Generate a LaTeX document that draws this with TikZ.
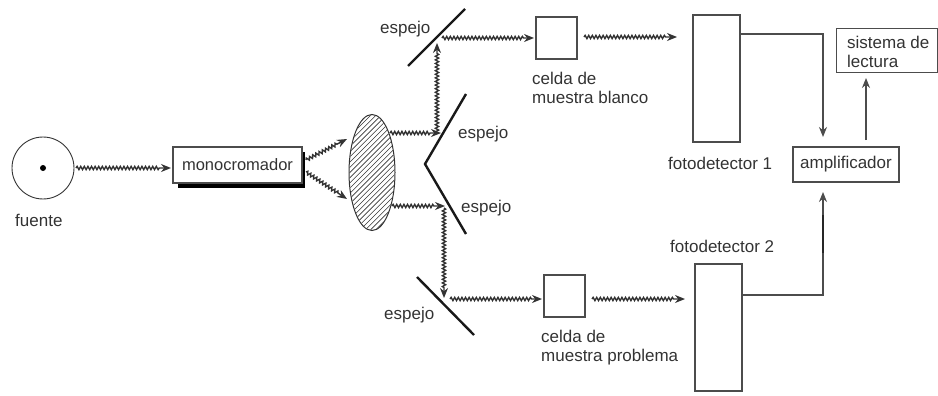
\documentclass[tikz,border=0pt]{standalone}
\usepackage{fontspec}
\setmainfont{Liberation Sans}
\usetikzlibrary{decorations.pathmorphing,arrows.meta,shapes.geometric}
\tikzset{
  x=1pt,y=-1pt,
  lbl/.style={inner sep=0pt,font=\fontsize{17}{19}\selectfont,text=black!80,align=left},
  boxn/.style={draw=black!70,line width=1.3pt,fill=white,inner sep=0pt},
  mirror/.style={line width=2.4pt,black!90},
  wire/.style={line width=1.3pt,black!70,-{Stealth[length=10pt,width=8pt]}},
  light/.style={line width=1.4pt,black!80,decorate,
    decoration={snake,segment length=3.6pt,amplitude=1.6pt,post=lineto,post length=10pt},
    -{Stealth[length=10pt,width=8pt]}},
}
\begin{document}
\begin{tikzpicture}
\useasboundingbox (0,0) rectangle (938,396);
% source
\node[draw=black!80,line width=0.9pt,circle,minimum size=62pt,inner sep=0pt] (src) at (43,168) {};
\fill (43,168) circle (3pt);
\node[lbl,anchor=west] (tsrc) at (15,220) {fuente};
% monochromator
\fill[black] (178,152) rectangle (305,188);
\node[boxn,minimum width=129pt,minimum height=36pt,font=\fontsize{16.5}{18}\selectfont,text=black!80] (mono) at (237.5,165) {monocromador};
% splitter lens
\begin{scope}
\clip (372,172.5) ellipse [x radius=22.5pt,y radius=57.5pt];
\foreach \k in {0,...,40}{\draw[line width=0.6pt,black!80] (330,130+5.2*\k-5.2*8) -- +(90,-90);}
\end{scope}
\node[draw=black!80,line width=1pt,ellipse,minimum width=46pt,minimum height=116pt,inner sep=0pt] (lens) at (372,172.5) {};
% mirrors
\coordinate (m1a) at (465,9);   \coordinate (m1b) at (408,66);
\coordinate (m2a) at (466,94);  \coordinate (m2v) at (425,164); \coordinate (m3b) at (466,234);
\coordinate (m4a) at (417,277); \coordinate (m4b) at (474,335);
\draw[mirror] (m1a) -- (m1b);
\draw[mirror] (m2a) -- (m2v) -- (m3b);
\draw[mirror] (m4a) -- (m4b);
% cells and detectors
\node[boxn,minimum width=41pt,minimum height=42pt] (c1) at (556.5,38) {};
\node[boxn,minimum width=41pt,minimum height=42pt] (c2) at (564.5,296) {};
\node[boxn,minimum width=47pt,minimum height=127pt] (d1) at (716.5,78.5) {};
\node[boxn,minimum width=47pt,minimum height=127pt] (d2) at (718.5,327.5) {};
\node[boxn,minimum width=106pt,minimum height=35pt,font=\fontsize{17}{19}\selectfont,text=black!80] (amp) at (846,164.5) {amplificador};
\node[boxn,minimum width=101pt,minimum height=44pt,anchor=north west] (read) at (836,28) {};
\node[lbl,anchor=west] (tread) at (847,51.5) {sistema de\\lectura};
% light paths
\coordinate (a1) at (76,168);  \coordinate (a2) at (171,168);
\coordinate (b1) at (306,160); \coordinate (b2) at (347,139);
\coordinate (b3) at (306,172); \coordinate (b4) at (347,199);
\coordinate (e1) at (390,133); \coordinate (e2) at (441,133);
\coordinate (e3) at (392,206); \coordinate (e4) at (445,206);
\coordinate (v1) at (437,133); \coordinate (v2) at (437,43);
\coordinate (v3) at (444,208); \coordinate (v4) at (444,298);
\coordinate (h1) at (442,38);  \coordinate (h2) at (534,38);
\coordinate (h3) at (450,299); \coordinate (h4) at (542,299);
\coordinate (g1) at (584,37);  \coordinate (g2) at (677,37);
\coordinate (g3) at (592,299); \coordinate (g4) at (685,299);
\foreach \p/\q in {a1/a2,b1/b2,b3/b4,e1/e2,e3/e4,v1/v2,v3/v4,h1/h2,h3/h4,g1/g2,g3/g4}{
  \draw[light] (\p) -- (\q);
}
% wires
\coordinate (w1) at (823,34);  \coordinate (w1e) at (823,137);
\coordinate (w2) at (823,295); \coordinate (w2e) at (823,192);
\coordinate (w3) at (866,140); \coordinate (w3e) at (866,78);
\draw[wire] (d1.east |- w1) -- (w1) -- (w1e);
\draw[wire] (d2.east |- w2) -- (w2) -- (w2e);
\draw[line width=2.2pt,black!85] (823,215) -- (823,253);
\draw[wire] (w3) -- (w3e);
% labels
\node[lbl,anchor=west] (t1) at (380,29) {espejo};
\node[lbl,anchor=west] (t2) at (458,134) {espejo};
\node[lbl,anchor=west] (t3) at (461,208) {espejo};
\node[lbl,anchor=west] (t4) at (384,315) {espejo};
\node[lbl,anchor=west] (t5) at (532,87.5) {celda de\\muestra blanco};
\node[lbl,anchor=west] (t6) at (541,347.5) {celda de\\muestra problema};
\node[lbl,anchor=west] (t7) at (668,163) {fotodetector 1};
\node[lbl,anchor=west] (t8) at (670,246) {fotodetector 2};
\end{tikzpicture}
\end{document}
